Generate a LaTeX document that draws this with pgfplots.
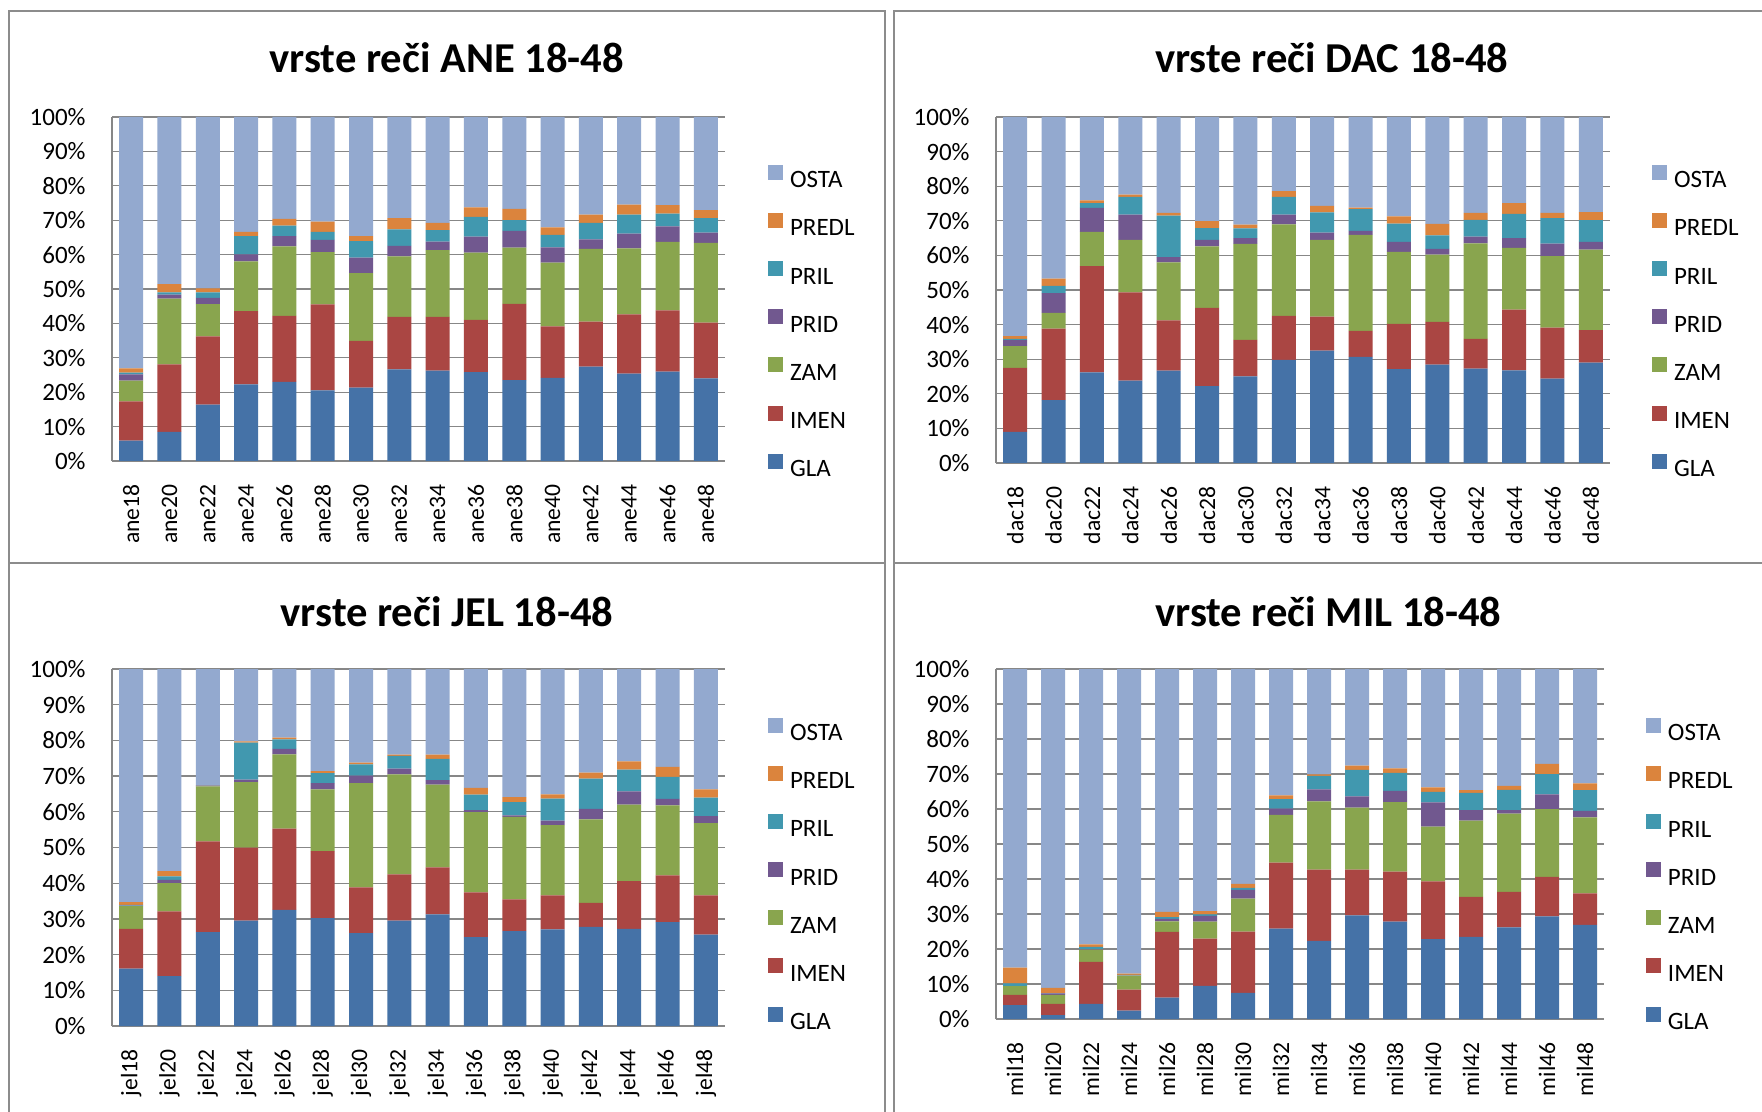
\documentclass[border=0pt]{standalone}
\usepackage{pgfplots}
\pgfplotsset{compat=1.18}
\usepackage{pgfplotstable}
\usepackage{fontspec}
\setmainfont{Carlito}

\definecolor{cGLA}{HTML}{4572A7}
\definecolor{cIMEN}{HTML}{AA4643}
\definecolor{cZAM}{HTML}{89A54E}
\definecolor{cPRID}{HTML}{71588F}
\definecolor{cPRIL}{HTML}{4198AF}
\definecolor{cPREDL}{HTML}{DB843D}
\definecolor{cOSTA}{HTML}{93A9CF}
\definecolor{cgrid}{HTML}{878787}
\definecolor{cframe}{HTML}{8C8C8C}

\pgfplotstableread{
x G I Z Pd Pl Pr O
0 5.9 11.4 6.1 1.8 0.5 1.2 73.1
1 8.5 19.6 19.1 1.2 0.6 2.4 48.6
2 16.4 19.8 9.4 1.8 1.6 1.2 49.8
3 22.3 21.3 14.4 2.1 5.3 1.2 33.4
4 23.0 19.2 20.2 3.0 3.0 2.0 29.6
5 20.5 25.0 15.2 3.6 2.3 3.0 30.4
6 21.3 13.6 19.7 4.5 4.8 1.5 34.6
7 26.6 15.3 17.6 3.0 4.8 3.3 29.4
8 26.3 15.6 19.4 2.5 3.3 2.1 30.8
9 25.8 15.2 19.6 4.6 5.8 2.7 26.3
10 23.5 22.2 16.3 4.9 3.1 3.3 26.7
11 24.2 14.9 18.6 4.4 3.6 2.2 32.1
12 27.4 13.1 21.2 2.7 4.8 2.4 28.4
13 25.4 17.2 19.2 4.3 5.5 2.9 25.5
14 26.0 17.8 19.9 4.5 3.7 2.5 25.6
15 24.0 16.2 23.2 3.0 4.2 2.3 27.1
}\ane

\pgfplotstableread{
x G I Z Pd Pl Pr O
0 9.0 18.5 6.3 1.7 0.4 0.8 63.3
1 18.2 20.6 4.6 5.7 2.1 2.1 46.7
2 26.2 30.7 9.9 6.9 1.4 0.8 24.1
3 23.8 25.5 15.2 7.3 5.1 0.7 22.4
4 26.7 14.5 16.8 1.5 12.0 0.8 27.7
5 22.2 22.6 17.8 1.9 3.4 2.0 30.1
6 25.0 10.6 27.7 1.7 2.8 1.1 31.1
7 29.8 12.7 26.5 2.8 5.1 1.7 21.4
8 32.5 9.8 22.2 2.1 5.8 1.9 25.7
9 30.7 7.5 27.7 1.2 6.3 0.4 26.2
10 27.1 13.1 20.8 2.9 5.3 2.1 28.7
11 28.4 12.4 19.4 1.7 3.9 3.3 30.9
12 27.3 8.6 27.6 1.9 4.9 2.0 27.7
13 26.8 17.5 17.9 2.8 7.0 3.1 24.9
14 24.4 14.7 20.7 3.6 7.4 1.5 27.7
15 29.0 9.4 23.3 2.2 6.3 2.3 27.5
}\dac

\pgfplotstableread{
x G I Z Pd Pl Pr O
0 16.1 11.1 6.4 0.1 0.2 0.8 65.3
1 14.0 18.1 7.9 0.9 1.0 1.5 56.6
2 26.3 25.4 15.4 0.2 0.1 0.1 32.5
3 29.5 20.5 18.3 0.7 10.4 0.3 20.3
4 32.5 22.8 20.8 1.5 2.7 0.5 19.2
5 30.2 18.8 17.3 1.7 2.8 0.6 28.6
6 26.0 12.8 29.2 2.1 3.2 0.5 26.2
7 29.5 13.0 28.0 1.6 3.6 0.3 24.0
8 31.3 13.1 23.2 1.3 5.9 1.2 24.0
9 24.9 12.5 22.5 0.6 4.3 1.9 33.3
10 26.6 8.9 23.1 0.4 3.7 1.4 35.9
11 27.1 9.5 19.7 1.2 6.2 1.2 35.1
12 27.8 6.7 23.4 2.9 8.5 1.7 29.0
13 27.2 13.4 21.4 3.7 6.1 2.3 25.9
14 29.1 13.1 19.6 1.8 6.2 2.8 27.4
15 25.6 11.0 20.2 2.0 5.2 2.3 33.7
}\jel

\pgfplotstableread{
x G I Z Pd Pl Pr O
0 4.0 2.9 2.5 0.0 0.8 4.5 85.3
1 1.1 3.2 2.6 0.4 0.1 1.5 91.1
2 4.3 12.0 3.5 0.2 0.6 0.7 78.7
3 2.4 6.0 4.0 0.1 0.1 0.4 87.0
4 6.1 18.8 3.0 0.7 0.5 1.5 69.4
5 9.5 13.5 4.8 1.7 0.4 0.9 69.2
6 7.5 17.5 9.4 2.5 0.6 1.1 61.4
7 25.8 18.9 13.6 1.8 2.7 1.1 36.1
8 22.3 20.4 19.5 3.4 3.9 0.4 30.1
9 29.6 13.1 17.7 3.2 7.6 1.2 27.6
10 27.8 14.3 19.9 3.2 5.1 1.3 28.4
11 22.8 16.5 15.7 6.9 3.0 1.3 33.8
12 23.5 11.4 21.8 3.0 4.9 0.8 34.6
13 26.2 10.1 22.4 1.0 5.8 1.1 33.4
14 29.3 11.3 19.4 4.2 5.8 2.9 27.1
15 26.9 9.0 21.7 1.9 5.9 1.9 32.7
}\mil

\pgfplotsset{
  panel/.style={
    ybar stacked,
    bar width=12pt,
    scale only axis,
    anchor=south west,
    xmin=-0.5, xmax=15.5,
    ymin=0, ymax=100,
    xtick={0,...,15},
    ytick={0,10,...,100},
    yticklabels={0\%,10\%,20\%,30\%,40\%,50\%,60\%,70\%,80\%,90\%,100\%},
    axis x line*=bottom,
    axis y line*=left,
    axis line style={cgrid, line width=0.65pt},
    ymajorgrids,
    major grid style={cgrid, line width=0.65pt},
    tick style={draw=none},
    yticklabel style={font=\fontsize{12.5}{15}\selectfont, anchor=east, inner sep=0pt, xshift=-13pt},
    xticklabel style={font=\fontsize{11.8}{14}\selectfont, yshift=-11.5pt, rotate=90, anchor=east, inner sep=0pt},
    legend image code/.code={\fill[##1,draw=none] (0pt,0pt) rectangle (7.5pt,7.5pt);},
    reverse legend,
    legend cell align=left,
    legend style={anchor=north west, draw=none, fill=none, inner sep=0pt,
      outer sep=0pt, row sep=0pt, column sep=3.5pt,
      font=\fontsize{12.5}{15}\selectfont,
      nodes={inner sep=0pt, minimum height=24.07pt, text height=8pt, text depth=0pt}},
  }
}

\newcommand{\panelplots}[1]{%
  \addplot[fill=cGLA, draw=none] table[x=x, y=G] {#1};
  \addlegendentry{GLA}
  \addplot[fill=cIMEN, draw=none] table[x=x, y=I] {#1};
  \addlegendentry{IMEN}
  \addplot[fill=cZAM, draw=none] table[x=x, y=Z] {#1};
  \addlegendentry{ZAM}
  \addplot[fill=cPRID, draw=none] table[x=x, y=Pd] {#1};
  \addlegendentry{PRID}
  \addplot[fill=cPRIL, draw=none] table[x=x, y=Pl] {#1};
  \addlegendentry{PRIL}
  \addplot[fill=cPREDL, draw=none] table[x=x, y=Pr] {#1};
  \addlegendentry{PREDL}
  \addplot[fill=cOSTA, draw=none] table[x=x, y=O] {#1};
  \addlegendentry{OSTA}
}

\begin{document}
\begin{tikzpicture}
\useasboundingbox (0pt,0pt) rectangle (881pt,-556pt);
\fill[white] (0pt,0pt) rectangle (881pt,-556pt);

% panel frames
\draw[cframe, line width=1pt] (4.5pt,-5.5pt) rectangle (442.35pt,-281.35pt);
\draw[cframe, line width=1pt] (890pt,-5.5pt) -- (447pt,-5.5pt) -- (447pt,-281.35pt) -- (890pt,-281.35pt);
\draw[cframe, line width=1pt] (4.5pt,-565pt) -- (4.5pt,-281.35pt) -- (442.35pt,-281.35pt) -- (442.35pt,-565pt);
\draw[cframe, line width=1pt] (447pt,-565pt) -- (447pt,-281.35pt) -- (890pt,-281.35pt);

% titles
\node[anchor=base, font=\fontsize{21.3}{25}\selectfont\bfseries] at (223.4pt,-36.5pt) {vrste reči ANE 18-48};
\node[anchor=base, font=\fontsize{21.3}{25}\selectfont\bfseries] at (665.9pt,-36.5pt) {vrste reči DAC 18-48};
\node[anchor=base, font=\fontsize{21.3}{25}\selectfont\bfseries] at (223.5pt,-313pt) {vrste reči JEL 18-48};
\node[anchor=base, font=\fontsize{21.3}{25}\selectfont\bfseries] at (664.2pt,-313pt) {vrste reči MIL 18-48};

\begin{axis}[panel, at={(56pt,-230.5pt)}, width=306.5pt, height=172pt,
  xticklabels={ane18,ane20,ane22,ane24,ane26,ane28,ane30,ane32,ane34,ane36,ane38,ane40,ane42,ane44,ane46,ane48},
  legend style={at={(1.0702,0.8874)}}]
\panelplots{\ane}
\end{axis}

\begin{axis}[panel, at={(498pt,-231.5pt)}, width=307pt, height=173pt,
  xticklabels={dac18,dac20,dac22,dac24,dac26,dac28,dac30,dac32,dac34,dac36,dac38,dac40,dac42,dac44,dac46,dac48},
  legend style={at={(1.0684,0.888)}}]
\panelplots{\dac}
\end{axis}

\begin{axis}[panel, at={(56pt,-513pt)}, width=306.5pt, height=178.5pt,
  xticklabels={jel18,jel20,jel22,jel24,jel26,jel28,jel30,jel32,jel34,jel36,jel38,jel40,jel42,jel44,jel46,jel48},
  legend style={at={(1.0702,0.889)}}]
\panelplots{\jel}
\end{axis}

\begin{axis}[panel, at={(498pt,-509.5pt)}, width=304pt, height=175pt,
  xticklabels={mil18,mil20,mil22,mil24,mil26,mil28,mil30,mil32,mil34,mil36,mil38,mil40,mil42,mil44,mil46,mil48},
  legend style={at={(1.069,0.8867)}}]
\panelplots{\mil}
\end{axis}
\end{tikzpicture}
\end{document}
